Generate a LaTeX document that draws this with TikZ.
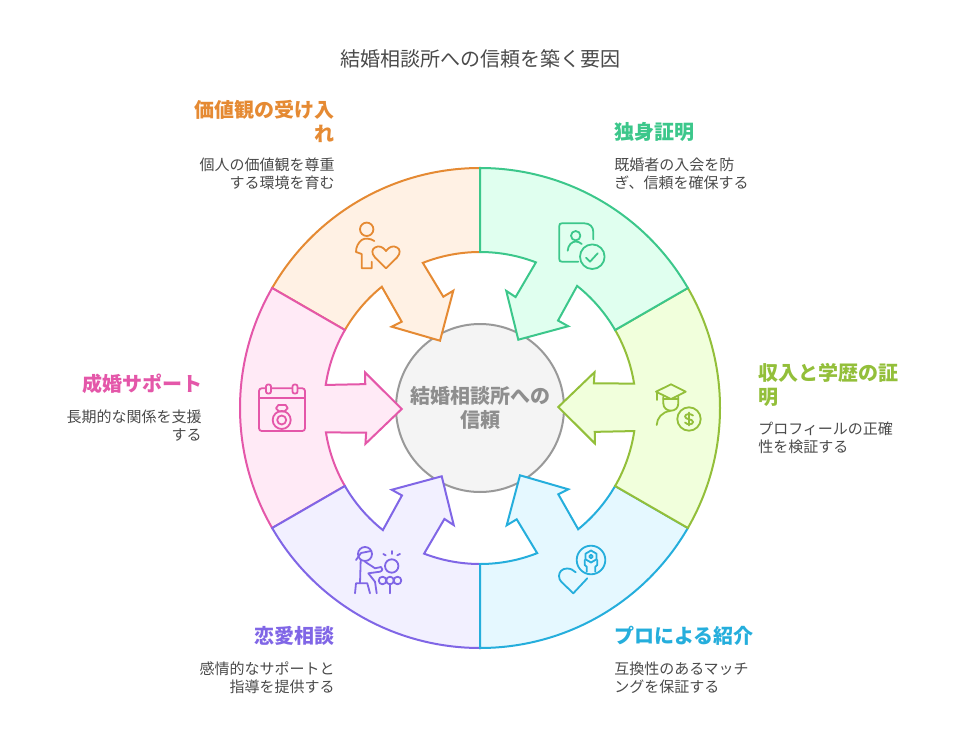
\documentclass[tikz,border=0pt]{standalone}
\usepackage{fontspec}
\setmainfont{Noto Sans CJK JP}

\definecolor{lineorange}{HTML}{E58A33}
\definecolor{fillorange}{HTML}{FFF1E4}
\definecolor{linepink}{HTML}{E457A9}
\definecolor{fillpink}{HTML}{FFEAF6}
\definecolor{linepurple}{HTML}{8066E6}
\definecolor{fillpurple}{HTML}{F2F0FF}
\definecolor{lineblue}{HTML}{25AEDC}
\definecolor{fillblue}{HTML}{E5F8FF}
\definecolor{lineyellow}{HTML}{93BF3A}
\definecolor{fillyellow}{HTML}{F1FFDC}
\definecolor{linegreen}{HTML}{3CC78B}
\definecolor{fillgreen}{HTML}{E0FFEF}
\definecolor{hubline}{HTML}{999999}
\definecolor{hubfill}{HTML}{F4F4F4}
\definecolor{hubtext}{HTML}{8E8E8E}
\definecolor{bodytext}{HTML}{4A4A4A}

\tikzset{
    heading/.style={inner sep=0pt, font=\bfseries\fontsize{15}{18}\selectfont},
    bodyleft/.style={inner sep=0pt, anchor=west, align=left, text=bodytext, font=\fontsize{11.25}{13.5}\selectfont},
    bodyright/.style={inner sep=0pt, anchor=east, align=right, text=bodytext, font=\fontsize{11.25}{13.5}\selectfont},
    icon/.style={line width=1.35pt, line cap=round, line join=round}
}

\begin{document}
\begin{tikzpicture}[x=0.75pt, y=-0.75pt]
    \useasboundingbox (0,0) rectangle (960,756);

    \node[inner sep=0pt, text=bodytext, font=\fontsize{15}{18}\selectfont] (title) at (480,59) {結婚相談所への信頼を築く要因};

    \node[circle, draw=hubline, fill=hubfill, line width=1.5pt, inner sep=0pt, minimum size=126pt] (hub) at (480,408) {};

    \foreach \rot/\col in {0/orange, 60/pink, 120/purple, 180/blue, 240/yellow, 300/green} {
        \begin{scope}[shift={(480,408)}, rotate=\rot]
            \draw[draw=line\col, fill=fill\col, line width=1.5pt]
                (210:240) arc[start angle=210, end angle=270, radius=240]
                -- (270:156) arc[start angle=270, end angle=248.5, radius=156]
                -- (-36.7,-111.3) -- (-26.7,-117.3) -- (-40,-67.3)
                -- (-88.3,-81.3) -- (-78.3,-86.3)
                -- (231:156) arc[start angle=231, end angle=210, radius=156]
                -- cycle;
        \end{scope}
    }

    \node[inner sep=0pt, align=center, text=hubtext, font=\bfseries\fontsize{15}{18}\selectfont] (hublabel) at (hub.center) {結婚相談所への\\信頼};

    \node[heading, anchor=east, align=right, text=lineorange] (valuehead) at (335,121) {価値観の受け入\\れ};
    \node[bodyright] (valuebody) at (335,174) {個人の価値観を尊重\\する環境を育む};
    \node[heading, anchor=west, align=left, text=linegreen] (singlehead) at (614,132) {独身証明};
    \node[bodyleft] (singlebody) at (614,174) {既婚者の入会を防\\ぎ、信頼を確保する};
    \node[heading, anchor=west, align=left, text=lineyellow] (incomehead) at (758,385) {収入と学歴の証\\明};
    \node[bodyleft] (incomebody) at (758,438) {プロフィールの正確\\性を検証する};
    \node[heading, anchor=west, align=left, text=lineblue] (prohead) at (614,636) {プロによる紹介};
    \node[bodyleft] (probody) at (614,678) {互換性のあるマッチ\\ングを保証する};
    \node[heading, anchor=east, align=right, text=linepurple] (lovehead) at (335,636) {恋愛相談};
    \node[bodyright] (lovebody) at (335,678) {感情的なサポートと\\指導を提供する};
    \node[heading, anchor=east, align=right, text=linepink] (supporthead) at (203,384) {成婚サポート};
    \node[bodyright] (supportbody) at (202,426) {長期的な関係を支援\\する};

    \begin{scope}[icon, draw=lineorange]
        \draw (366.7,229.3) circle(6.7);
        \draw (374.3,241) .. controls (370,238) and (364,238) .. (361.7,240)
            .. controls (358,243) and (356,247) .. (356,252)
            -- (361.7,254) -- (361.7,268.3) -- (371.7,268.3) -- (371.7,261.7);
        \draw (386,268.3) -- (375,257.5)
            .. controls (371,253) and (372,249) .. (375,247.5)
            .. controls (379,245) and (383,247) .. (386,251)
            .. controls (389,247) and (393,245) .. (397,247.5)
            .. controls (400,249) and (401,253) .. (397,257.5) -- cycle;
    \end{scope}

    \begin{scope}[icon, draw=linegreen]
        \draw (578.3,261.7) -- (562,261.7) .. controls (560,261.7) and (559.3,261) .. (559.3,259)
            -- (559.3,226) .. controls (559.3,224) and (560,223.3) .. (562,223.3)
            -- (584.3,223.3) .. controls (590,223.3) and (593.3,227) .. (593.3,232) -- (593.3,239.3);
        \draw (575.7,235.7) circle(4.7);
        \draw (567.7,250.7) .. controls (568,245) and (572,241.5) .. (575.7,241.5)
            .. controls (578,241.5) and (580,242.5) .. (581.7,244);
        \draw (592.3,256.7) circle(12.3);
        \draw (586,257.7) -- (590,261.7) -- (597.7,253.3);
    \end{scope}

    \begin{scope}[icon, draw=lineyellow]
        \draw (671,384.3) -- (685.7,391.7) -- (671,399) -- (656,391.7) -- cycle;
        \draw (657.3,392) -- (657.3,400);
        \draw (663.3,399) -- (678.3,399);
        \draw (663.3,396.7) -- (663.3,403.3) .. controls (663.3,408) and (667,410.7) .. (671,410.7)
            .. controls (675,410.7) and (678.3,408) .. (678.3,403.3) -- (678.3,396.7);
        \draw (656.7,425) .. controls (657,418) and (662,412) .. (670,411);
        \draw (689,419) circle(11.7);
        \draw (693,415.5) .. controls (691,413.5) and (685,413.5) .. (685,416.5)
            .. controls (685,420) and (693,418.5) .. (693,422)
            .. controls (693,425) and (687,425) .. (685,422.5);
        \draw (689,412.5) -- (689,425.5);
    \end{scope}

    \begin{scope}[icon, draw=lineblue]
        \draw (591,560) circle(14.3);
        \draw (575.7,572.3) .. controls (573,570) and (571,568.5) .. (567,568.5)
            .. controls (562,568.5) and (559,572) .. (559,576)
            .. controls (559,578.5) and (560,580.5) .. (561.5,582)
            -- (573.3,593.3) -- (587.3,578.3);
        \draw (591,550.5) -- (596.5,553.7) -- (596.5,559.3) -- (591,562.5) -- (585.5,559.3) -- (585.5,553.7) -- cycle;
        \draw (591,556.5) circle(1.8);
        \draw (584.7,560) -- (584.7,565) -- (586.7,566.7) -- (586.7,571.7);
        \draw (597.3,560) -- (597.3,565) -- (595.3,566.7) -- (595.3,571.7);
    \end{scope}

    \begin{scope}[icon, draw=linepurple]
        \draw (365,554) circle(7);
        \draw (356,560) -- (361,553) -- (371,551);
        \draw (360.7,560) -- (360,583.3);
        \draw (365,561.7) -- (375,568.3) -- (381,567) .. controls (383,568) and (383,571) .. (380,571.7) -- (368.3,573.3) -- (375,581.7) -- (376.7,593.3);
        \draw (355,593.3) -- (356,583.3) -- (367.3,583.3) -- (370,593.3);
        \draw (391.7,566) circle(6.7);
        \draw (382.5,580.5) circle(3.8);
        \draw (390,580.5) circle(3.8);
        \draw (397.5,580.5) circle(3.8);
        \draw (390,584.3) -- (390,593.3);
        \draw (383.3,554) -- (385.7,555.3);
        \draw (391.7,551) -- (391.7,554);
        \draw (400,554) -- (397.3,555.3);
    \end{scope}

    \begin{scope}[icon, draw=linepink]
        \draw[rounded corners=2pt] (259,388.3) rectangle (305,431);
        \draw (259,398.3) -- (305,398.3);
        \draw[fill=fillpink, rounded corners=1.5pt] (266,384.5) rectangle (271,393.5);
        \draw[fill=fillpink, rounded corners=1.5pt] (292.5,384.5) rectangle (297.5,393.5);
        \draw (281.7,420) circle(9);
        \draw (281.7,420) circle(4.5);
        \draw (278.3,405) -- (285.7,405) -- (287.7,408.3) -- (284.3,411.5) -- (279,411.5) -- (276,408.3) -- cycle;
    \end{scope}
\end{tikzpicture}
\end{document}
